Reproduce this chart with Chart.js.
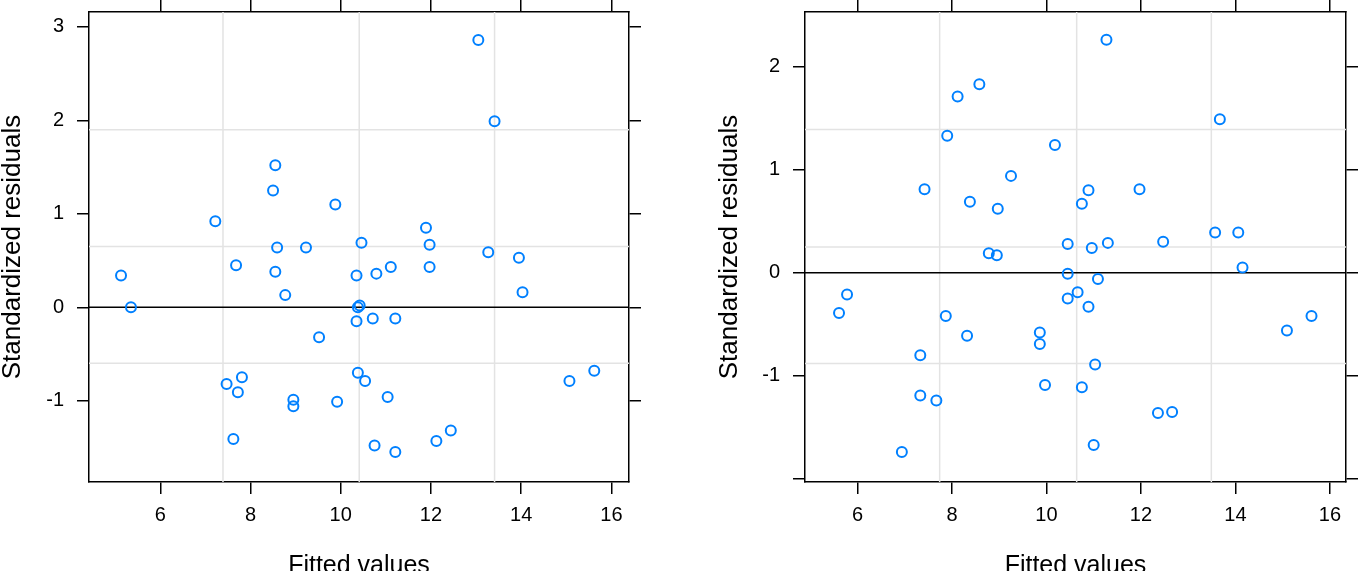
<!DOCTYPE html>
<html>
<head>
<meta charset="utf-8">
<script src="https://cdn.jsdelivr.net/npm/chart.js@4.4.1/dist/chart.umd.min.js"></script>
<style>
  html, body { margin: 0; padding: 0; background: #fff; overflow: hidden; }
  canvas { position: absolute; top: 0; }
  #left { left: 0; }
  #right { left: 680px; }
</style>
</head>
<body>
<canvas id="left" width="680" height="571"></canvas>
<canvas id="right" width="678" height="571"></canvas>
<script>
// left panel
const fitted1 = [5.13, 5.35, 7.22, 7.68, 7.47, 7.81, 7.72, 7.62, 8.55, 8.50, 8.59, 8.55, 8.77, 9.23, 8.95,
  8.95, 9.52, 9.88, 9.92, 10.46, 10.35, 10.38, 10.42, 10.35, 10.71, 10.79, 11.11, 11.21, 10.38, 10.54,
  11.04, 10.75, 11.21, 11.89, 11.97, 11.97, 12.12, 12.44, 13.05, 13.41, 13.27, 13.95, 14.03, 15.07, 15.62];
const resid1 = [0.34, 0.00, 0.92, 0.45, -0.82, -0.75, -0.91, -1.41, 1.52, 1.25, 0.64, 0.38, 0.13, 0.64, -0.99,
  -1.06, -0.32, 1.10, -1.01, 0.69, 0.34, 0.00, 0.02, -0.15, -0.12, 0.36, 0.43, -0.12, -0.70, -0.79,
  -0.96, -1.48, -1.55, 0.85, 0.67, 0.43, -1.43, -1.32, 2.86, 1.99, 0.59, 0.53, 0.16, -0.79, -0.68];
const xTicks1 = [6, 8, 10, 12, 14, 16];
const yTicks1 = [-1, 0, 1, 2, 3];
const yLabels1 = ['-1', '0', '1', '2', '3'];
const xRange1 = [4.42, 16.39];
const yRange1 = [-1.87, 3.16];
const refX1 = [7.39, 10.41, 13.41];
const refY1 = [1.90, 0.65, -0.60];

// right panel
const fitted2 = [5.61, 5.78, 6.94, 7.33, 7.33, 7.67, 7.42, 7.90, 7.87, 8.12, 8.58, 8.38, 8.32, 8.78, 8.95,
  8.97, 9.25, 9.86, 9.86, 9.97, 10.18, 10.45, 10.45, 10.45, 10.66, 10.75, 10.89, 10.96, 10.89, 11.09,
  10.75, 11.03, 11.00, 11.27, 11.30, 11.97, 12.47, 12.36, 12.66, 13.57, 13.67, 14.06, 14.15, 15.09, 15.61];
const resid2 = [-0.39, -0.21, -1.74, -0.80, -1.19, -1.24, 0.81, 1.33, -0.42, 1.71, 1.83, 0.69, -0.61, 0.19, 0.17,
  0.62, 0.94, -0.58, -0.69, -1.09, 1.24, 0.28, -0.01, -0.25, -0.19, 0.67, 0.80, 0.24, -0.33, -0.06,
  -1.11, -0.89, -1.67, 2.26, 0.29, 0.81, 0.30, -1.36, -1.35, 0.39, 1.49, 0.39, 0.05, -0.56, -0.42];
const xTicks2 = [6, 8, 10, 12, 14, 16];
const yTicks2 = [-2, -1, 0, 1, 2];
const yLabels2 = ['', '-1', '0', '1', '2'];
const xRange2 = [4.89, 16.34];
const yRange2 = [-2.03, 2.53];
const refX2 = [7.74, 10.64, 13.49];
const refY2 = [1.39, 0.25, -0.88];

const FONT = '"Liberation Sans", Arial, sans-serif';

function lineSet(pts, color) {
  return { data: pts, showLine: true, pointRadius: 0, borderColor: color, borderWidth: 1.5, fill: false };
}

// fix an axis box size and drop the label overhang padding
function fixSize(prop, size) {
  return s => {
    s[prop] = size;
    s.paddingTop = 0; s.paddingBottom = 0; s.paddingLeft = 0; s.paddingRight = 0;
  };
}

function panel(id, p) {
  const datasets = [{
    data: p.x.map((v, i) => ({ x: v, y: p.y[i] })),
    pointStyle: 'circle',
    pointRadius: 5,
    borderColor: '#0080ff',
    backgroundColor: 'rgba(0,0,0,0)',
    borderWidth: 2
  }];
  datasets.push(lineSet([{ x: p.xr[0], y: 0 }, { x: p.xr[1], y: 0 }], '#000'));
  p.refX.forEach(v => datasets.push(lineSet([{ x: v, y: p.yr[0] }, { x: v, y: p.yr[1] }], '#e3e3e3')));
  p.refY.forEach(v => datasets.push(lineSet([{ x: p.xr[0], y: v }, { x: p.xr[1], y: v }], '#e3e3e3')));

  const grid = { display: true, drawOnChartArea: false, drawTicks: true, tickLength: 12, color: '#000', lineWidth: 1.5 };
  const border = { display: true, color: '#000', width: 1.5 };
  const setX = s => { s.ticks = p.xt.map(v => ({ value: v })); };
  const setY = s => { s.ticks = p.yt.map(v => ({ value: v })); };

  new Chart(document.getElementById(id), {
    type: 'scatter',
    data: { datasets },
    options: {
      responsive: false,
      animation: false,
      devicePixelRatio: 1,
      layout: { padding: { left: 0, top: 0, right: p.padRight, bottom: 0 } },
      plugins: { legend: { display: false }, tooltip: { enabled: false } },
      scales: {
        x: {
          type: 'linear', position: 'bottom', min: p.xr[0], max: p.xr[1],
          afterBuildTicks: setX, afterFit: fixSize('height', 89),
          grid, border,
          ticks: { color: '#000', font: { family: FONT, size: 20 }, padding: 9, maxRotation: 0 },
          title: { display: true, text: 'Fitted values', color: '#000', font: { family: FONT, size: 25 }, padding: { top: 0, bottom: -10 } }
        },
        x2: {
          type: 'linear', position: 'top', min: p.xr[0], max: p.xr[1],
          afterBuildTicks: setX, afterFit: fixSize('height', 12),
          grid, border, ticks: { display: false }
        },
        y: {
          type: 'linear', position: 'left', min: p.yr[0], max: p.yr[1],
          afterBuildTicks: setY, afterFit: fixSize('width', p.left),
          grid, border,
          ticks: { color: '#000', font: { family: FONT, size: 20 }, padding: 13, callback: (v, i) => p.yl[i] },
          title: { display: true, text: 'Standardized residuals', color: '#000', font: { family: FONT, size: 26 }, padding: { top: p.titlePad, bottom: 0 } }
        },
        y2: {
          type: 'linear', position: 'right', min: p.yr[0], max: p.yr[1],
          afterBuildTicks: setY, afterFit: fixSize('width', 12),
          grid, border, ticks: { display: false }
        }
      }
    }
  });
}

panel('left', { x: fitted1, y: resid1, xt: xTicks1, yt: yTicks1, yl: yLabels1, xr: xRange1, yr: yRange1,
  refX: refX1, refY: refY1, left: 89, padRight: 39, titlePad: -3 });
panel('right', { x: fitted2, y: resid2, xt: xTicks2, yt: yTicks2, yl: yLabels2, xr: xRange2, yr: yRange2,
  refX: refX2, refY: refY2, left: 125, padRight: 0, titlePad: 34 });
</script>
</body>
</html>
